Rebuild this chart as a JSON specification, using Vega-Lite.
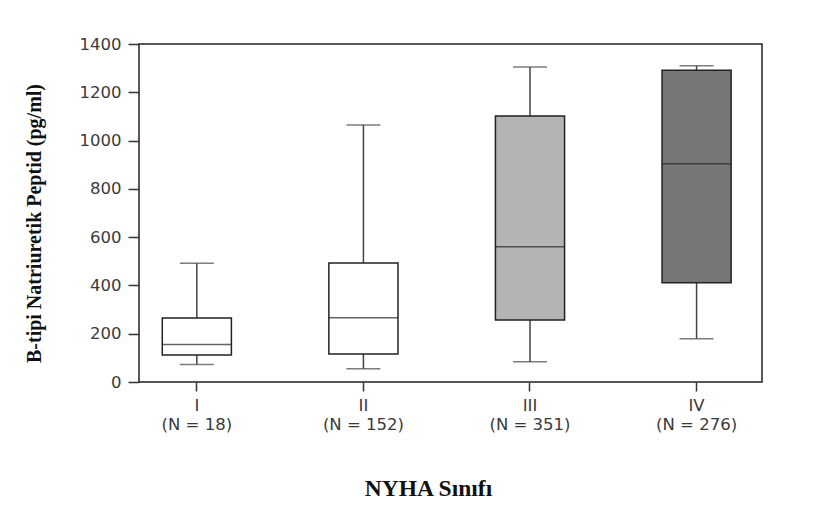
{
  "$schema": "https://vega.github.io/schema/vega-lite/v6.json",
  "width": 623,
  "height": 338,
  "autosize": {"type": "none"},
  "padding": {"left": 139, "top": 44, "right": 60, "bottom": 126},
  "background": "#ffffff",
  "config": {
    "view": {"stroke": "#222222", "strokeWidth": 1.5},
    "axis": {"grid": false, "domain": false}
  },
  "data": {
    "values": [
      {"grp": "I|(N = 18)", "lo": 73, "q1": 112, "med": 155, "q3": 265, "hi": 492},
      {"grp": "II|(N = 152)", "lo": 55, "q1": 116, "med": 266, "q3": 493, "hi": 1065},
      {"grp": "III|(N = 351)", "lo": 84, "q1": 257, "med": 560, "q3": 1102, "hi": 1305},
      {"grp": "IV|(N = 276)", "lo": 179, "q1": 411, "med": 904, "q3": 1291, "hi": 1310}
    ]
  },
  "encoding": {
    "x": {
      "field": "grp",
      "type": "nominal",
      "sort": null,
      "scale": {"paddingInner": 0.585, "paddingOuter": 0.1625, "align": 0.43},
      "axis": {
        "title": "NYHA Sınıfı",
        "titleFont": "Liberation Serif",
        "titleFontSize": 23.5,
        "titleFontWeight": "bold",
        "titleColor": "#111111",
        "titlePadding": 44,
        "titleX": 289,
        "labelExpr": "split(datum.value, '|')",
        "labelAngle": 0,
        "labelFont": "DejaVu Sans",
        "labelFontSize": 16.5,
        "labelColor": "#3a3a3a",
        "labelLineHeight": 19,
        "labelPadding": 6,
        "tickSize": 9,
        "tickColor": "#333333",
        "tickWidth": 1.5
      }
    }
  },
  "layer": [
    {
      "mark": {"type": "rule", "stroke": "#444444", "strokeWidth": 1.5},
      "encoding": {
        "y": {
          "field": "lo",
          "type": "quantitative",
          "scale": {"domain": [0, 1400], "nice": false},
          "axis": {
            "title": "B-tipi Natriuretik Peptid (pg/ml)",
            "titleFont": "Liberation Serif",
            "titleFontSize": 20,
            "titleFontWeight": "bold",
            "titleColor": "#111111",
            "titlePadding": 35,
            "titleY": 179,
            "values": [0, 200, 400, 600, 800, 1000, 1200, 1400],
            "format": "d",
            "labelFont": "DejaVu Sans",
            "labelFontSize": 16.5,
            "labelColor": "#3a3a3a",
            "labelPadding": 7,
            "tickSize": 11,
            "tickColor": "#333333",
            "tickWidth": 1.5
          }
        },
        "y2": {"field": "hi"}
      }
    },
    {
      "mark": {"type": "tick", "color": "#444444", "size": 34, "thickness": 1.5},
      "encoding": {"y": {"field": "lo", "type": "quantitative"}}
    },
    {
      "mark": {"type": "tick", "color": "#444444", "size": 34, "thickness": 1.5},
      "encoding": {"y": {"field": "hi", "type": "quantitative"}}
    },
    {
      "mark": {"type": "bar", "stroke": "#222222", "strokeWidth": 1.5},
      "encoding": {
        "y": {"field": "q1", "type": "quantitative"},
        "y2": {"field": "q3"},
        "fill": {
          "field": "grp",
          "type": "nominal",
          "scale": {
            "domain": ["I|(N = 18)", "II|(N = 152)", "III|(N = 351)", "IV|(N = 276)"],
            "range": ["#ffffff", "#ffffff", "#b4b4b4", "#767676"]
          },
          "legend": null
        }
      }
    },
    {
      "mark": {"type": "tick", "color": "#222222", "size": 69, "thickness": 1.5},
      "encoding": {"y": {"field": "med", "type": "quantitative"}}
    }
  ]
}
